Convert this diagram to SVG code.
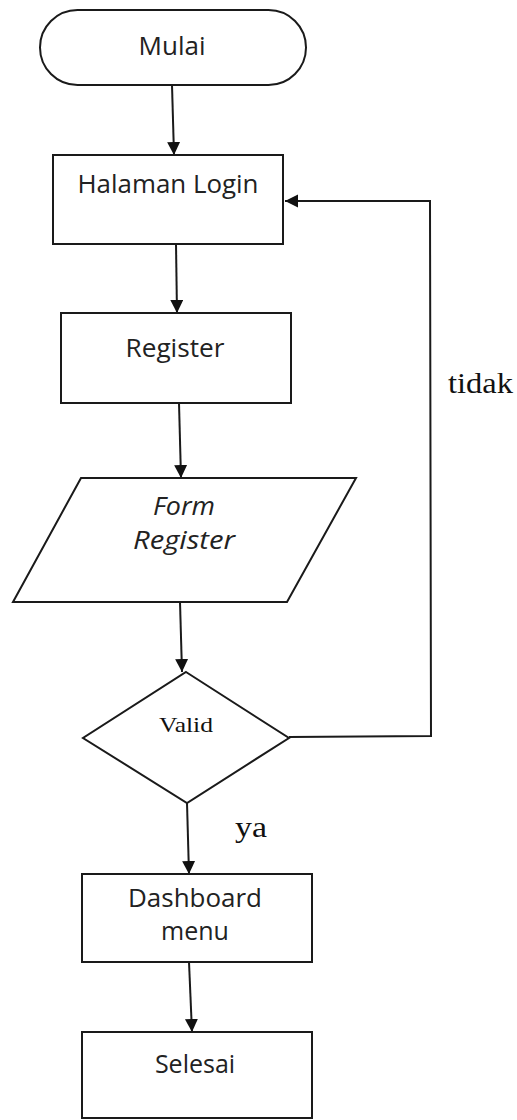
<svg xmlns="http://www.w3.org/2000/svg" width="517" height="1120" viewBox="0 0 517 1120">
<defs>
<style>
.shape{fill:#fff;stroke:#1a1a1a;stroke-width:2}
.conn{fill:none;stroke:#1a1a1a;stroke-width:2}
.sans{font-family:"Open Sans","Liberation Sans",sans-serif;font-size:25px;fill:#222;text-anchor:middle}
.serif{font-family:"Liberation Serif","Times New Roman",serif;fill:#111}
</style>
<marker id="arr" markerUnits="userSpaceOnUse" markerWidth="14" markerHeight="14" refX="13" refY="6.5" orient="auto">
<path d="M0,0 L13,6.5 L0,13 z" fill="#111"/>
</marker>
</defs>
<rect width="517" height="1120" fill="#fff"/>
<g id="connectors">
<line class="conn" x1="172" y1="85" x2="174" y2="155" marker-end="url(#arr)"/>
<line class="conn" x1="176" y1="244" x2="177" y2="313" marker-end="url(#arr)"/>
<line class="conn" x1="179" y1="403" x2="181" y2="478" marker-end="url(#arr)"/>
<line class="conn" x1="180" y1="602" x2="182" y2="672" marker-end="url(#arr)"/>
<line class="conn" x1="187" y1="803" x2="189" y2="874" marker-end="url(#arr)"/>
<line class="conn" x1="189" y1="962" x2="192" y2="1032" marker-end="url(#arr)"/>
<polyline class="conn" points="289,737 431,736 430,201 285,201" marker-end="url(#arr)"/>
<text class="serif" x="448" y="393" font-size="29" textLength="65" lengthAdjust="spacingAndGlyphs">tidak</text>
<text class="serif" x="235" y="837" font-size="29" textLength="32" lengthAdjust="spacingAndGlyphs">ya</text>
</g>
<g id="mulai">
<rect class="shape" x="40" y="10" width="266" height="75" rx="37.5" ry="37.5"/>
<text class="sans" x="172" y="55" textLength="67" lengthAdjust="spacingAndGlyphs">Mulai</text>
</g>
<g id="halaman-login">
<rect class="shape" x="53" y="155" width="230" height="89"/>
<text class="sans" x="168" y="193" textLength="181" lengthAdjust="spacingAndGlyphs">Halaman Login</text>
</g>
<g id="register">
<rect class="shape" x="61" y="313" width="230" height="90"/>
<text class="sans" x="175" y="357" textLength="99" lengthAdjust="spacingAndGlyphs">Register</text>
</g>
<g id="form-register">
<polygon class="shape" points="81,478 356,478 287,602 13,602"/>
<text class="sans" x="184" y="515" font-style="italic" font-size="24" textLength="62" lengthAdjust="spacingAndGlyphs">Form</text>
<text class="sans" x="184" y="549" font-style="italic" font-size="24" textLength="102" lengthAdjust="spacingAndGlyphs">Register</text>
</g>
<g id="valid">
<polygon class="shape" points="186,672 289,738 187,803 83,738"/>
<text class="serif" x="186" y="732" font-size="22" text-anchor="middle" textLength="54" lengthAdjust="spacingAndGlyphs">Valid</text>
</g>
<g id="dashboard">
<rect class="shape" x="82" y="874" width="230" height="88"/>
<text class="sans" x="195" y="907" textLength="134" lengthAdjust="spacingAndGlyphs">Dashboard</text>
<text class="sans" x="195" y="940">menu</text>
</g>
<g id="selesai">
<rect class="shape" x="82" y="1032" width="230" height="86"/>
<text class="sans" x="195" y="1073">Selesai</text>
</g>
</svg>
